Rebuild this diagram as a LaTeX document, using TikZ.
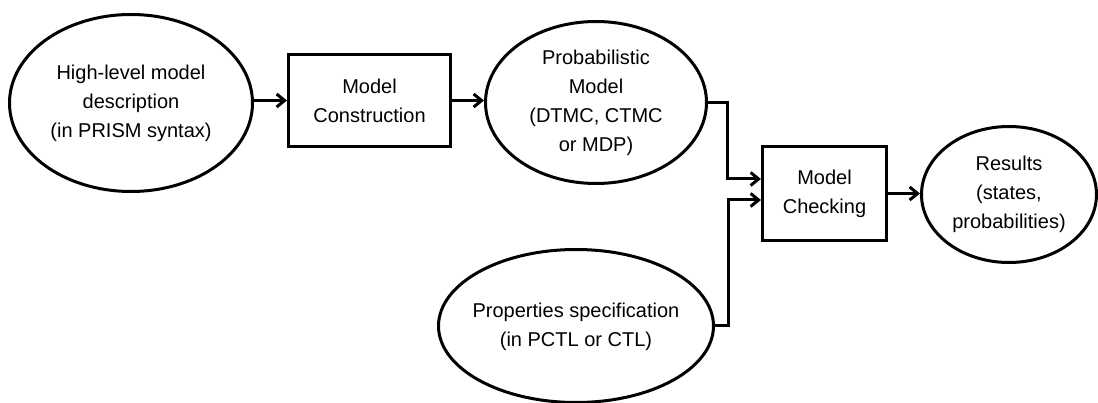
\documentclass[tikz,border=0pt]{standalone}
\usepackage{fontspec}
\setmainfont{Liberation Sans}
\usetikzlibrary{shapes.geometric,arrows.meta}
\begin{document}
\begin{tikzpicture}[x=1pt,y=-1pt,
  every node/.style={font=\fontsize{20}{29}\selectfont},
  oval/.style={ellipse,draw,line width=3pt,inner sep=0pt},
  stage/.style={rectangle,draw,line width=3pt,inner sep=0pt,align=center},
  caption/.style={align=center,inner sep=0pt},
  arr/.style={line width=3pt,-{Straight Barb[length=8pt,width=13pt,line width=3pt]}},
  wire/.style={line width=3pt}
]
\useasboundingbox (0,0) rectangle (1098,403);

% input description
\node[oval,minimum width=243pt,minimum height=177pt] (desc) at (131,103) {};
\node[caption] (desctxt) at (131,103) {High-level model\\description\\(in PRISM syntax)};

% model construction step
\node[stage,minimum width=162pt,minimum height=92pt] (build) at (369.5,100.5)
  {Model\\Construction};

% probabilistic model
\node[oval,minimum width=221pt,minimum height=162pt] (model) at (596,102.5) {};
\node[caption] (modeltxt) at (596,103) {Probabilistic\\Model\\(DTMC, CTMC\\or MDP)};

% properties
\node[oval,minimum width=275pt,minimum height=153pt] (props) at (576,326) {};
\node[caption] (propstxt) at (576,327) {Properties specification\\(in PCTL or CTL)};

% model checking step
\node[stage,minimum width=124pt,minimum height=94pt] (check) at (824.5,193.5)
  {Model\\Checking};

% results
\node[oval,minimum width=175pt,minimum height=136pt] (res) at (1009,194.5) {};
\node[caption] (restxt) at (1009,194) {Results\\(states,\\probabilities)};

% connectors
\draw[arr] (build.west -| desc.east) -- (build.west);
\draw[arr] (build.east) -- (build.east -| model.west);
\draw[arr] (model.east) -- ++(19,0) |- ([yshift=14.5pt]check.west);
\draw[arr] (props.east) -- ++(13.5,0) |- ([yshift=-6.5pt]check.west);
\draw[arr] (check.east) -- (check.east -| res.west);
\end{tikzpicture}
\end{document}
